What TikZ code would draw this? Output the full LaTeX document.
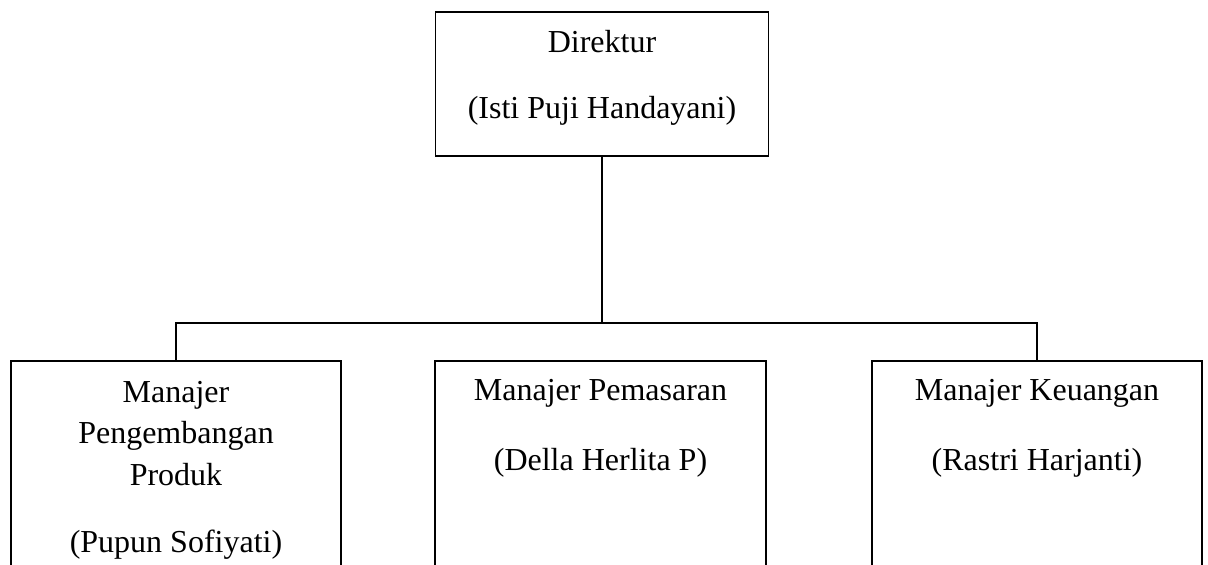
\documentclass[tikz,border=0pt]{standalone}
\usepackage{fontspec}
\setmainfont{Liberation Serif}
\begin{document}
\begin{tikzpicture}[x=1pt,y=1pt,
  box/.style={draw=black,line width=1.8pt,rectangle,inner sep=0pt},
  txt/.style={anchor=base,inner sep=0pt,font=\fontsize{32}{42}\selectfont},
  link/.style={draw=black,line width=1.8pt}]
\useasboundingbox (0,0) rectangle (1208,-565);
\clip (0,0) rectangle (1208,-565);
% boxes
\node[box,minimum width=333pt,minimum height=144pt] (dir) at (602,-84) {};
\node[box,minimum width=330pt,minimum height=300pt] (lbox) at (176,-511) {};
\node[box,minimum width=331pt,minimum height=300pt] (mbox) at (600.5,-511) {};
\node[box,minimum width=330pt,minimum height=300pt] (rbox) at (1037,-511) {};
% texts
\node[txt] (d1) at (602,-52) {Direktur};
\node[txt] (d2) at (602,-118) {(Isti Puji Handayani)};
\node[txt] (l1) at (176,-402) {Manajer};
\node[txt] (l2) at (176,-443) {Pengembangan};
\node[txt] (l3) at (176,-485) {Produk};
\node[txt] (l4) at (176,-552) {(Pupun Sofiyati)};
\node[txt] (m1) at (600.5,-400) {Manajer Pemasaran};
\node[txt] (m2) at (600.5,-470) {(Della Herlita P)};
\node[txt] (r1) at (1037,-400) {Manajer Keuangan};
\node[txt] (r2) at (1037,-470) {(Rastri Harjanti)};
% connectors
\coordinate (bus) at (0,-323);
\draw[link] (dir.south) -- (dir.south |- bus);
\draw[link] (lbox.north) |- (rbox.north |- bus) -- (rbox.north);
\end{tikzpicture}
\end{document}
